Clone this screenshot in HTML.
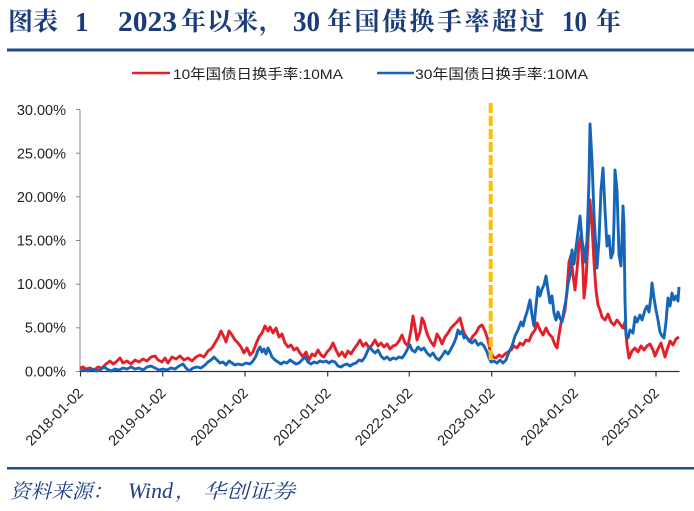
<!DOCTYPE html>
<html><head><meta charset="utf-8"><style>
html,body{margin:0;padding:0;background:#fff;}
svg{display:block;}
</style></head><body>
<svg width="694" height="511" viewBox="0 0 694 511" xmlns="http://www.w3.org/2000/svg">
<rect width="694" height="511" fill="#fff"/>
<!-- Title -->
<g font-family="'Liberation Serif','Noto Serif CJK SC',serif" font-weight="bold" fill="#1B3C78">
<text x="8" y="30" font-size="25">图表</text>
<text x="75" y="31" font-size="27">1</text>
<text x="118" y="31" font-size="28" textLength="59" lengthAdjust="spacingAndGlyphs">2023</text>
<text x="181" y="30" font-size="25" letter-spacing="1">年以来，</text>
<text x="293" y="31" font-size="28" textLength="27" lengthAdjust="spacingAndGlyphs">30</text>
<text x="327" y="30" font-size="25" letter-spacing="2.5">年国债换手率超过</text>
<text x="562" y="31" font-size="28" textLength="25" lengthAdjust="spacingAndGlyphs">10</text>
<text x="596" y="30" font-size="25">年</text>
</g>
<rect x="7" y="48.5" width="687" height="3" fill="#1F4E8C"/>
<!-- Legend -->
<g font-family="'Liberation Sans','Noto Sans CJK SC',sans-serif" font-size="14" fill="#222">
<line x1="132" y1="73" x2="170" y2="73" stroke="#E3202A" stroke-width="2.5"/>
<text x="173" y="79" textLength="170" lengthAdjust="spacingAndGlyphs">10年国债日换手率:10MA</text>
<line x1="377" y1="73" x2="414" y2="73" stroke="#1565B8" stroke-width="2.5"/>
<text x="415" y="79" textLength="173" lengthAdjust="spacingAndGlyphs">30年国债日换手率:10MA</text>
</g>
<!-- Y axis -->
<g font-family="'Liberation Sans',sans-serif" font-size="14.5" fill="#222" text-anchor="end">
<text x="66" y="115">30.00%</text>
<text x="66" y="158.5">25.00%</text>
<text x="66" y="202">20.00%</text>
<text x="66" y="245.5">15.00%</text>
<text x="66" y="289">10.00%</text>
<text x="66" y="332.5">5.00%</text>
<text x="66" y="376.5">0.00%</text>
</g>
<line x1="80" y1="109.5" x2="80" y2="372" stroke="#888" stroke-width="1"/>
<g stroke="#888" stroke-width="1">
<line x1="76" y1="109.5" x2="80" y2="109.5"/>
<line x1="76" y1="153.2" x2="80" y2="153.2"/>
<line x1="76" y1="196.8" x2="80" y2="196.8"/>
<line x1="76" y1="240.5" x2="80" y2="240.5"/>
<line x1="76" y1="284.2" x2="80" y2="284.2"/>
<line x1="76" y1="327.8" x2="80" y2="327.8"/>
<line x1="76" y1="371.5" x2="80" y2="371.5"/>
</g>
<!-- X axis -->
<line x1="80" y1="371.5" x2="679.5" y2="371.5" stroke="#333" stroke-width="1.2"/>
<g stroke="#333" stroke-width="1.2">
<line x1="80.5" y1="371.5" x2="80.5" y2="376.5"/>
<line x1="162.7" y1="371.5" x2="162.7" y2="376.5"/>
<line x1="245" y1="371.5" x2="245" y2="376.5"/>
<line x1="327.7" y1="371.5" x2="327.7" y2="376.5"/>
<line x1="409.3" y1="371.5" x2="409.3" y2="376.5"/>
<line x1="491.7" y1="371.5" x2="491.7" y2="376.5"/>
<line x1="575" y1="371.5" x2="575" y2="376.5"/>
<line x1="656" y1="371.5" x2="656" y2="376.5"/>
</g>
<g font-family="'Liberation Sans',sans-serif" font-size="14.5" fill="#222" text-anchor="end">
<text transform="translate(84,394) rotate(-45)">2018-01-02</text>
<text transform="translate(166.7,394) rotate(-45)">2019-01-02</text>
<text transform="translate(249,394) rotate(-45)">2020-01-02</text>
<text transform="translate(331.7,394) rotate(-45)">2021-01-02</text>
<text transform="translate(413.3,394) rotate(-45)">2022-01-02</text>
<text transform="translate(495.7,394) rotate(-45)">2023-01-02</text>
<text transform="translate(579,394) rotate(-45)">2024-01-02</text>
<text transform="translate(660,394) rotate(-45)">2025-01-02</text>
</g>
<!-- Red series -->
<polyline fill="none" stroke="#E3202A" stroke-width="2.9" stroke-linejoin="round" points="80,368 83,367 86,369 90,368 94,370 98,367 102,368 106,364 110,361 113,364 116,362 120,358 123,363 127,361 131,364 135,360 139,362 143,359 147,361 151,357 155,356 158,360 162,362 165,358 168,363 172,357 176,359 180,356 184,360 188,358 192,361 196,357 200,355 204,357 208,351 212,348 215,343 218,338 221,331 224,337 226,342 229,331 232,335 235,340 238,343 241,347 244,353 247,348 250,355 253,352 256,344 259,337 262,333 265,326 268,331 270,327 273,333 276,328 279,337 282,334 285,343 288,347 291,345 294,350 297,348 300,353 303,357 306,352 309,360 312,354 315,356 318,350 321,355 324,357 327,352 330,349 333,343 336,350 339,356 342,352 345,357 348,351 351,354 354,349 357,345 360,340 363,346 366,343 369,348 372,345 375,340 378,346 381,343 384,347 387,344 390,349 393,346 396,345 399,341 402,335 405,343 408,346 411,330 413,316 415,327 417,340 420,332 422,318 424,322 426,330 428,336 431,342 434,346 437,334 440,339 442,344 445,337 448,333 451,328 454,325 457,322 460,318 462,326 464,333 467,338 470,341 473,336 476,333 479,327 482,325 485,331 488,340 490,350 493,357 496,358 499,355 502,357 505,354 508,352 511,350 514,346 517,348 520,343 523,345 526,340 529,341 532,334 535,330 537,323 540,330 543,335 546,328 549,334 552,337 555,345 557,348 559,335 561,323 563,318 565,310 567,290 569,262 571,255 573,275 575,290 577,270 579,245 581,235 583,270 584,298 586,280 588,240 590,200 592,225 594,262 596,290 598,305 600,310 602,317 605,320 608,314 611,322 614,325 617,320 620,324 623,328 625,322 627,345 629,358 632,351 635,348 638,352 641,346 644,350 647,346 650,344 653,350 655,356 658,349 661,343 663,350 665,357 667,350 670,341 673,345 676,339 679,337"/>
<!-- Blue series -->
<polyline fill="none" stroke="#1565B8" stroke-width="2.9" stroke-linejoin="round" points="80,371 84,370 88,371 92,369 96,371 100,370 104,367 107,369 111,371 115,369 119,370 123,368 127,369 131,367 135,369 139,368 143,370 147,367 151,366 155,368 159,370 163,369 167,370 171,368 175,369 179,366 183,364 186,368 189,371 193,368 197,367 201,368 205,365 208,362 211,360 214,357 217,360 220,363 223,362 226,365 229,361 232,363 235,365 238,364 242,365 246,363 250,364 253,361 256,356 258,350 260,347 262,352 264,349 266,354 268,348 270,352 272,357 275,360 278,362 281,364 284,362 287,363 290,360 293,362 296,364 299,363 302,360 305,357 308,362 311,364 314,362 317,363 320,361 323,362 326,361 329,363 332,361 335,362 338,366 341,367 344,365 347,364 350,366 353,364 356,363 359,360 362,361 365,357 368,350 370,347 372,350 375,353 378,350 381,356 384,359 387,357 390,360 393,358 396,359 399,357 402,358 405,354 408,348 410,345 412,350 415,352 418,347 421,350 424,348 427,353 430,356 433,353 436,358 439,360 442,356 445,351 448,354 451,349 454,343 456,338 458,330 460,334 462,331 464,338 466,336 469,341 472,343 475,340 478,345 481,343 484,346 487,352 489,358 491,362 494,361 497,363 500,360 503,363 506,360 509,352 512,346 515,336 518,330 521,322 523,326 525,318 527,312 530,300 532,315 534,326 536,306 538,287 540,296 542,289 544,285 546,276 548,290 550,303 552,296 554,313 556,320 558,312 560,318 562,322 564,310 566,300 568,284 570,275 572,250 574,264 576,248 578,232 580,216 582,240 584,252 585,262 587,240 589,180 590,124 592,160 594,215 596,250 597,268 599,240 601,190 603,168 605,210 607,246 609,236 611,258 613,252 614,222 615,170 617,190 619,255 621,266 622,240 623,206 624,225 625,300 626,335 628,338 630,330 633,333 635,317 637,322 640,315 642,320 645,310 647,306 649,312 651,296 652,283 654,298 656,310 658,320 660,332 662,336 664,338 666,322 668,298 670,306 672,293 674,300 676,296 678,301 679,287"/>
<!-- Dashed marker line -->
<line x1="490.7" y1="103" x2="490.7" y2="362" stroke="#FFC000" stroke-width="4" stroke-dasharray="10,3"/>
<!-- Footer -->
<rect x="7" y="467" width="687" height="2.5" fill="#1F4E8C"/>
<g font-family="'Liberation Serif','Noto Serif CJK SC',serif" font-style="italic" fill="#1F3F86" font-size="20">
<text x="10" y="498" textLength="103" lengthAdjust="spacingAndGlyphs">资料来源：</text>
<text x="128" y="498" font-size="22" textLength="45" lengthAdjust="spacingAndGlyphs">Wind</text>
<text x="175" y="498">，</text>
<text x="203" y="498" textLength="92" lengthAdjust="spacingAndGlyphs">华创证券</text>
</g>
</svg>
</body></html>
